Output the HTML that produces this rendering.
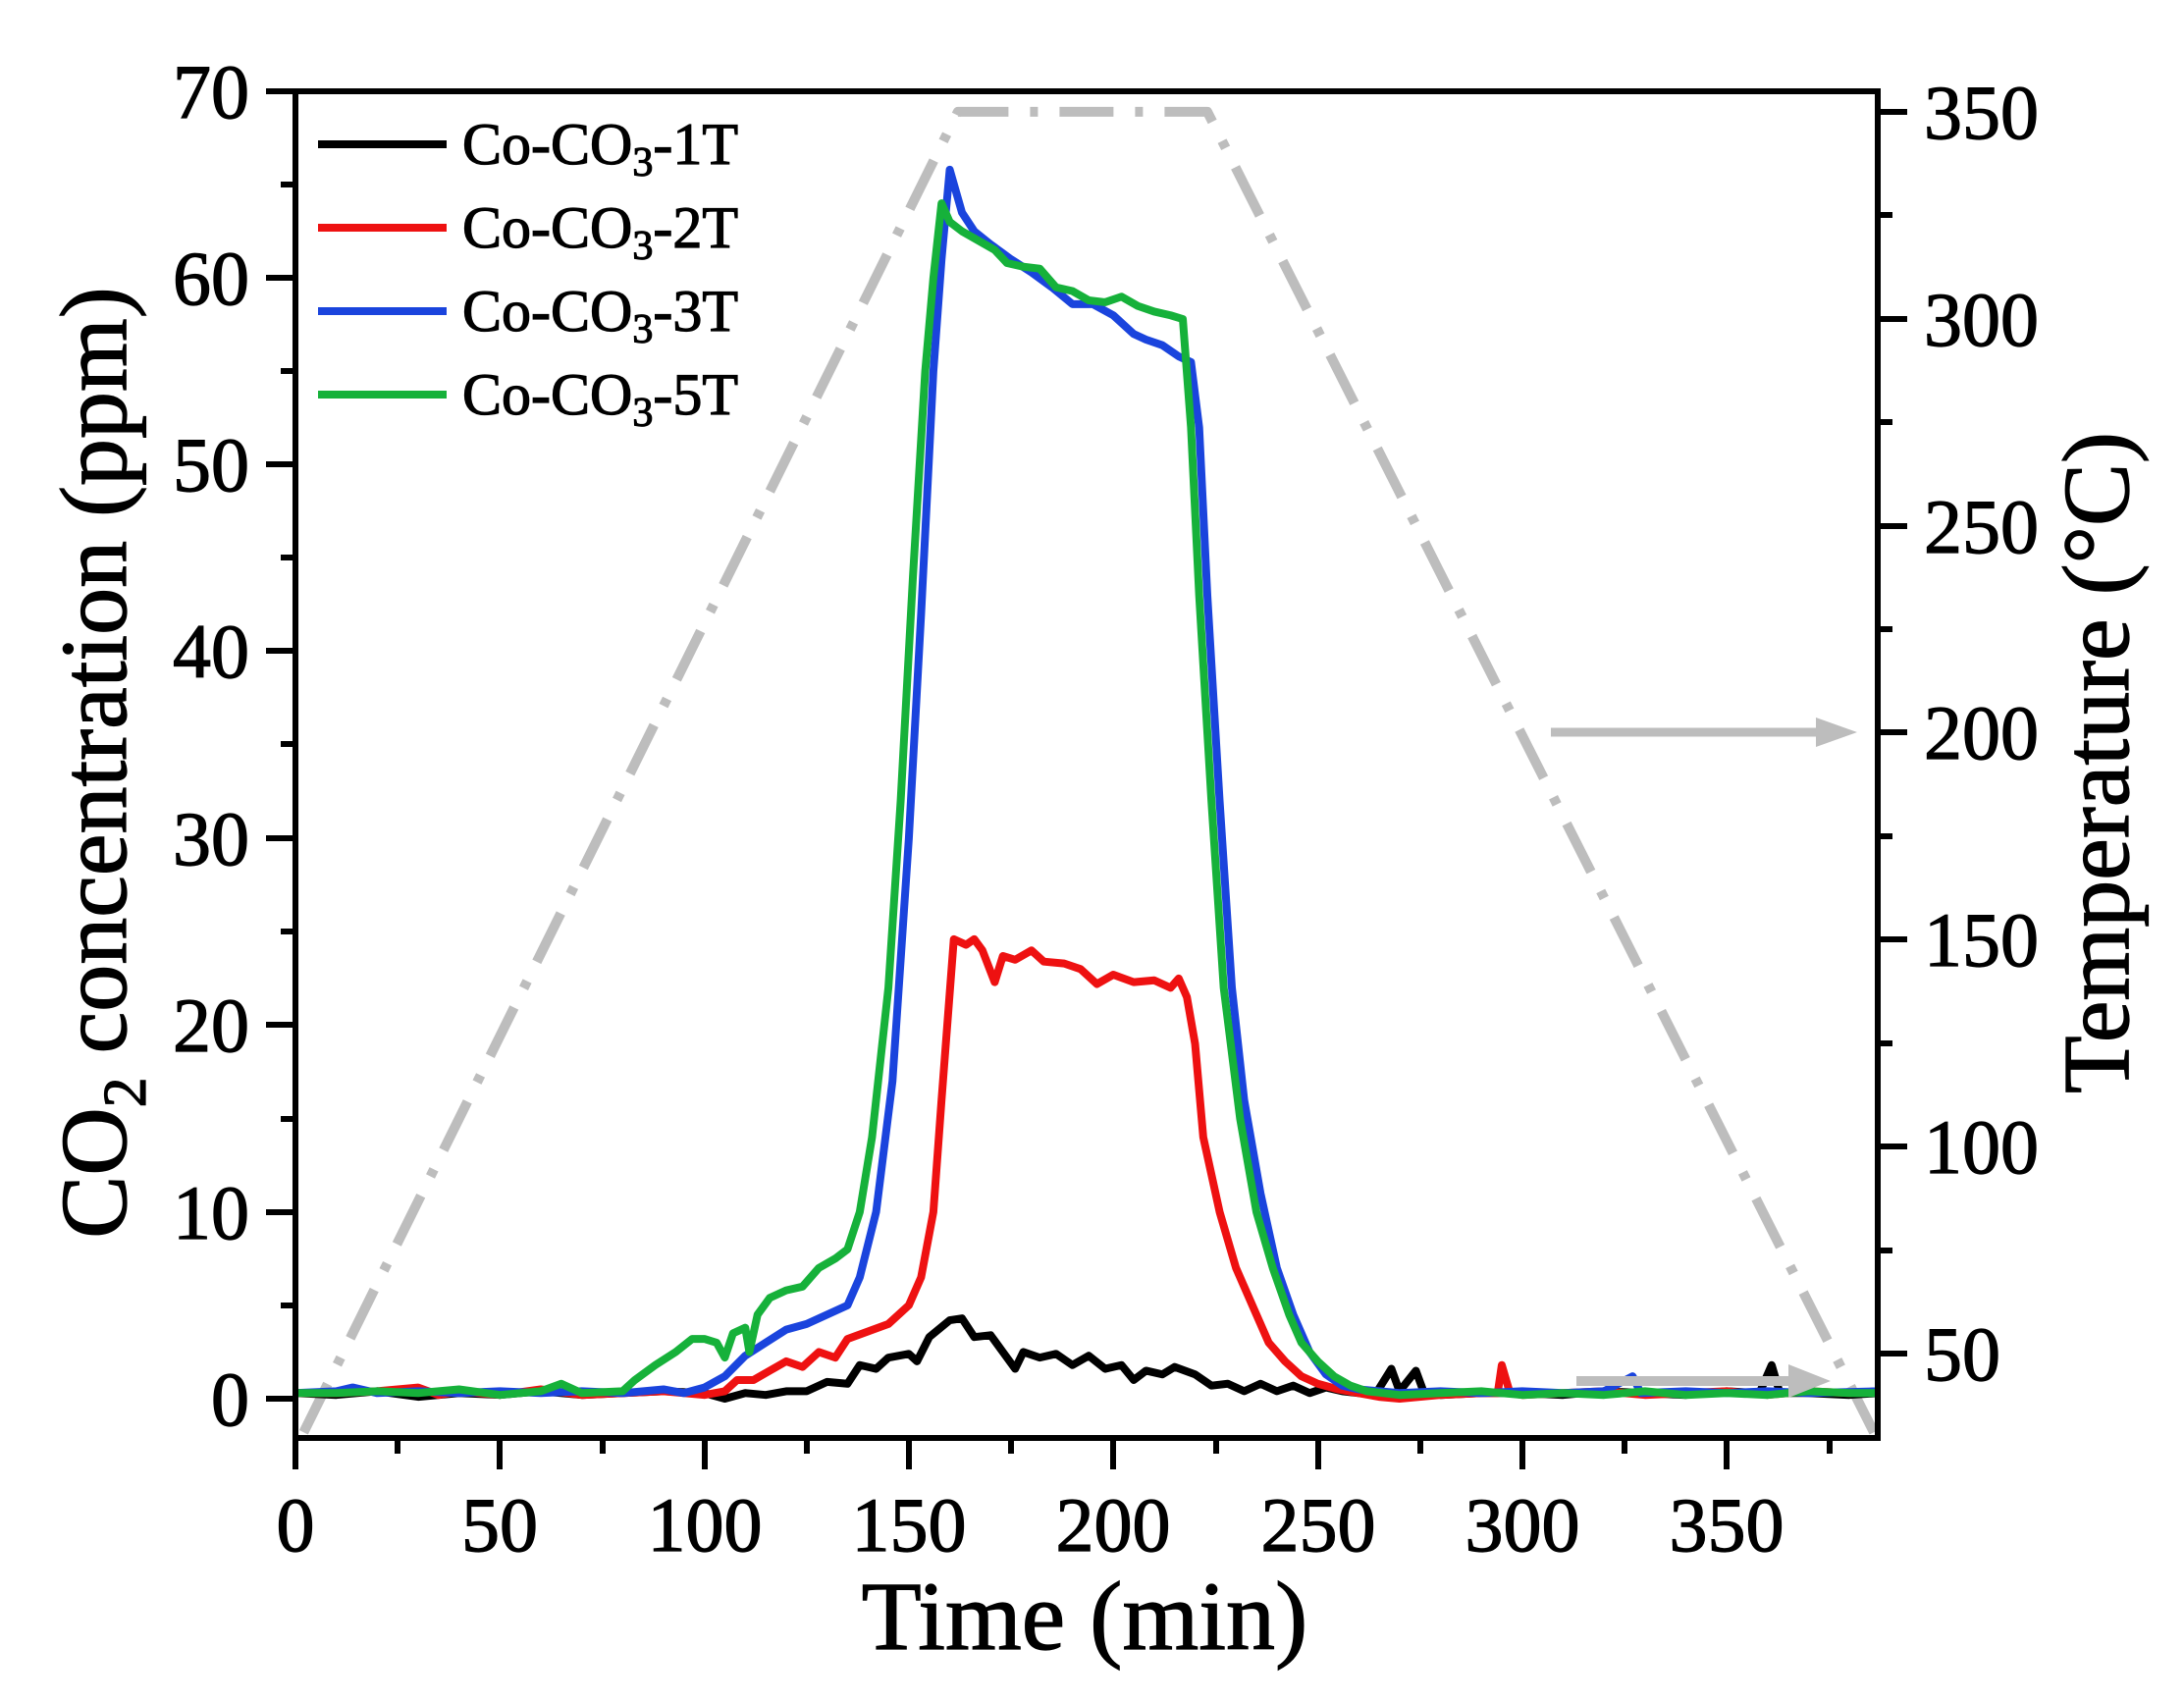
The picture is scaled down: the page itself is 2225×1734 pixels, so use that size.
<!DOCTYPE html>
<html><head><meta charset="utf-8"><style>
body{margin:0;background:#fff}
text{font-family:"Liberation Serif",serif;fill:#000;stroke:#000;stroke-width:1.2}
</style></head><body>
<svg width="2225" height="1729" viewBox="0 0 2225 1729" xmlns="http://www.w3.org/2000/svg">
<defs><clipPath id="c"><rect x="301" y="93" width="1612" height="1372"/></clipPath></defs>
<g clip-path="url(#c)">
<g transform="matrix(4.166 0 0 -19.03 301 1425)" fill="none" stroke-linejoin="round">
<polyline vector-effect="non-scaling-stroke" stroke="#bdbdbd" stroke-width="10" stroke-dasharray="55 22 8 22" points="2,-1.8 162,68.9 223,68.9 386,-1.8"/>
<polyline vector-effect="non-scaling-stroke" stroke="#000" stroke-width="8" points="0,0.3 10,0.2 20,0.4 30,0.1 40,0.3 50,0.2 60,0.4 70,0.2 80,0.3 90,0.4 100,0.3 105,0 110,0.3 115,0.2 120,0.4 125,0.4 130,0.9 135,0.8 138,1.8 142,1.6 145,2.2 150,2.4 152,2 155,3.3 160,4.2 163,4.3 166,3.3 170,3.4 173,2.5 176,1.6 178,2.5 182,2.2 186,2.4 190,1.8 194,2.3 198,1.6 202,1.8 205,1 208,1.5 212,1.3 215,1.7 220,1.3 224,0.7 228,0.8 232,0.4 236,0.8 240,0.4 244,0.7 248,0.3 252,0.6 256,0.4 260,0.3 264,0.2 268,1.6 270,0.4 274,1.5 276,0.3 280,0.2 290,0.3 300,0.3 310,0.2 320,0.4 330,0.3 340,0.2 350,0.4 358,0.3 361,1.8 363,0.3 370,0.3 380,0.2 387,0.3"/>
<polyline vector-effect="non-scaling-stroke" stroke="#ee1111" stroke-width="8" points="0,0.3 10,0.3 20,0.4 30,0.6 35,0.2 40,0.4 50,0.2 60,0.5 70,0.2 80,0.3 90,0.4 100,0.2 105,0.4 108,1 112,1 116,1.5 120,2 124,1.7 128,2.5 132,2.2 135,3.2 140,3.6 145,4 150,5 153,6.5 156,10 158,16 161,24.6 164,24.3 166,24.6 168,24 171,22.3 173,23.7 176,23.5 180,24 183,23.4 188,23.3 192,23 196,22.2 200,22.7 205,22.3 210,22.4 214,22 216,22.5 218,21.5 220,19 222,14 226,10 230,7 234,5 238,3 242,2 246,1.2 250,0.8 255,0.5 260,0.3 265,0.1 270,0 280,0.2 290,0.3 294,0.3 295,1.8 297,0.3 300,0.2 310,0.3 320,0.4 330,0.2 340,0.3 350,0.4 360,0.2 370,0.4 380,0.3 387,0.4"/>
<polyline vector-effect="non-scaling-stroke" stroke="#1a44dd" stroke-width="8" points="0,0.3 10,0.4 14,0.6 20,0.3 30,0.4 40,0.3 50,0.4 60,0.3 70,0.4 80,0.3 90,0.5 95,0.3 100,0.6 105,1.2 110,2.3 115,3 120,3.7 125,4 130,4.5 135,5 138,6.5 142,10 146,17 150,30 153,42 156,55 158,61 160,65.8 163,63.5 166,62.5 170,61.8 175,61 180,60.3 185,59.5 190,58.6 195,58.6 200,58 205,57 208,56.7 212,56.4 216,55.8 219,55.5 221,52 223,43 226,32 229,22 232,16 236,11 240,7 244,4.5 248,2.5 252,1.3 256,0.7 260,0.5 270,0.3 280,0.4 290,0.3 300,0.4 310,0.3 320,0.4 327,1.2 329,0.3 340,0.4 350,0.3 360,0.4 370,0.3 387,0.4"/>
<polyline vector-effect="non-scaling-stroke" stroke="#16b13a" stroke-width="8" points="0,0.3 10,0.3 20,0.4 30,0.3 40,0.5 50,0.2 60,0.4 65,0.8 70,0.3 80,0.4 83,1 88,1.8 93,2.5 97,3.2 100,3.2 103,3 105,2.2 107,3.5 110,3.8 111,2.5 113,4.5 116,5.4 120,5.8 124,6 128,7 132,7.5 135,8 138,10 141,14 145,22 148,32 151,44 154,55 156,60 158,64 160,63 163,62.5 167,62 171,61.5 174,60.8 178,60.6 182,60.5 186,59.5 190,59.3 194,58.8 198,58.7 202,59 206,58.5 210,58.2 214,58 217,57.8 219,52 221,43 224,32 227,22 231,15 235,10 239,7 243,4.5 246,3 250,2 254,1.2 258,0.7 262,0.4 270,0.2 280,0.3 290,0.4 300,0.2 310,0.3 320,0.2 330,0.4 340,0.2 350,0.3 360,0.2 370,0.4 380,0.3 387,0.3"/>
</g>
</g>
<g fill="#bdbdbd" stroke="#bdbdbd">
<line x1="1580" y1="746" x2="1860" y2="746" stroke-width="9"/>
<polygon points="1850,731 1892,746 1850,761" stroke="none"/>
<line x1="1606" y1="1407" x2="1830" y2="1407" stroke-width="10"/>
<polygon points="1822,1390 1865,1407 1822,1424" stroke="none"/>
</g>
<rect x="301" y="93" width="1612" height="1372" fill="none" stroke="#000" stroke-width="6"/>
<g stroke="#000" stroke-width="6">
<line x1="271" y1="1425" x2="301" y2="1425"/><line x1="286" y1="1330" x2="301" y2="1330"/>
<line x1="271" y1="1235" x2="301" y2="1235"/><line x1="286" y1="1140" x2="301" y2="1140"/>
<line x1="271" y1="1044" x2="301" y2="1044"/><line x1="286" y1="949" x2="301" y2="949"/>
<line x1="271" y1="854" x2="301" y2="854"/><line x1="286" y1="758" x2="301" y2="758"/>
<line x1="271" y1="663" x2="301" y2="663"/><line x1="286" y1="568" x2="301" y2="568"/>
<line x1="271" y1="473" x2="301" y2="473"/><line x1="286" y1="378" x2="301" y2="378"/>
<line x1="271" y1="283" x2="301" y2="283"/><line x1="286" y1="188" x2="301" y2="188"/>
<line x1="271" y1="93" x2="301" y2="93"/>
<line x1="301" y1="1465" x2="301" y2="1497"/><line x1="405" y1="1465" x2="405" y2="1481"/>
<line x1="509" y1="1465" x2="509" y2="1497"/><line x1="614" y1="1465" x2="614" y2="1481"/>
<line x1="718" y1="1465" x2="718" y2="1497"/><line x1="822" y1="1465" x2="822" y2="1481"/>
<line x1="926" y1="1465" x2="926" y2="1497"/><line x1="1030" y1="1465" x2="1030" y2="1481"/>
<line x1="1134" y1="1465" x2="1134" y2="1497"/><line x1="1239" y1="1465" x2="1239" y2="1481"/>
<line x1="1343" y1="1465" x2="1343" y2="1497"/><line x1="1447" y1="1465" x2="1447" y2="1481"/>
<line x1="1551" y1="1465" x2="1551" y2="1497"/><line x1="1655" y1="1465" x2="1655" y2="1481"/>
<line x1="1759" y1="1465" x2="1759" y2="1497"/><line x1="1864" y1="1465" x2="1864" y2="1481"/>
<line x1="1913" y1="114" x2="1943" y2="114"/><line x1="1913" y1="219" x2="1928" y2="219"/>
<line x1="1913" y1="325" x2="1943" y2="325"/><line x1="1913" y1="430" x2="1928" y2="430"/>
<line x1="1913" y1="536" x2="1943" y2="536"/><line x1="1913" y1="641" x2="1928" y2="641"/>
<line x1="1913" y1="746" x2="1943" y2="746"/><line x1="1913" y1="852" x2="1928" y2="852"/>
<line x1="1913" y1="957" x2="1943" y2="957"/><line x1="1913" y1="1063" x2="1928" y2="1063"/>
<line x1="1913" y1="1168" x2="1943" y2="1168"/><line x1="1913" y1="1274" x2="1928" y2="1274"/>
<line x1="1913" y1="1379" x2="1943" y2="1379"/>
</g>
<g font-size="78" text-anchor="end">
<text x="254" y="1452">0</text><text x="254" y="1262">10</text><text x="254" y="1071">20</text>
<text x="254" y="881">30</text><text x="254" y="690">40</text><text x="254" y="500">50</text>
<text x="254" y="310">60</text><text x="254" y="120">70</text>
</g>
<g font-size="78" text-anchor="middle">
<text x="301" y="1580">0</text><text x="509" y="1580">50</text><text x="718" y="1580">100</text>
<text x="926" y="1580">150</text><text x="1134" y="1580">200</text><text x="1343" y="1580">250</text>
<text x="1551" y="1580">300</text><text x="1759" y="1580">350</text>
</g>
<g font-size="78">
<text x="1960" y="141">350</text><text x="1960" y="352">300</text><text x="1960" y="563">250</text>
<text x="1960" y="773">200</text><text x="1960" y="984">150</text><text x="1960" y="1195">100</text>
<text x="1960" y="1406">50</text>
</g>
<text x="1105" y="1680" font-size="100" text-anchor="middle" stroke-width="2">Time (min)</text>
<text transform="translate(128 777) rotate(-90)" font-size="96" text-anchor="middle" stroke-width="2">CO<tspan font-size="62" dy="20">2</tspan><tspan dy="-20"> concentration (ppm)</tspan></text>
<text transform="translate(2168 777) rotate(-90)" font-size="96" text-anchor="middle" stroke-width="2">Temperature (°C)</text>
<g stroke-width="8">
<line x1="324" y1="147" x2="455" y2="147" stroke="#000"/>
<line x1="324" y1="232" x2="455" y2="232" stroke="#ee1111"/>
<line x1="324" y1="317" x2="455" y2="317" stroke="#1a44dd"/>
<line x1="324" y1="402" x2="455" y2="402" stroke="#16b13a"/>
</g>
<g font-size="60">
<text x="471" y="167">Co-CO<tspan font-size="42" dy="12">3</tspan><tspan dy="-12">-1T</tspan></text>
<text x="471" y="252">Co-CO<tspan font-size="42" dy="12">3</tspan><tspan dy="-12">-2T</tspan></text>
<text x="471" y="337">Co-CO<tspan font-size="42" dy="12">3</tspan><tspan dy="-12">-3T</tspan></text>
<text x="471" y="422">Co-CO<tspan font-size="42" dy="12">3</tspan><tspan dy="-12">-5T</tspan></text>
</g>
</svg>
</body></html>
